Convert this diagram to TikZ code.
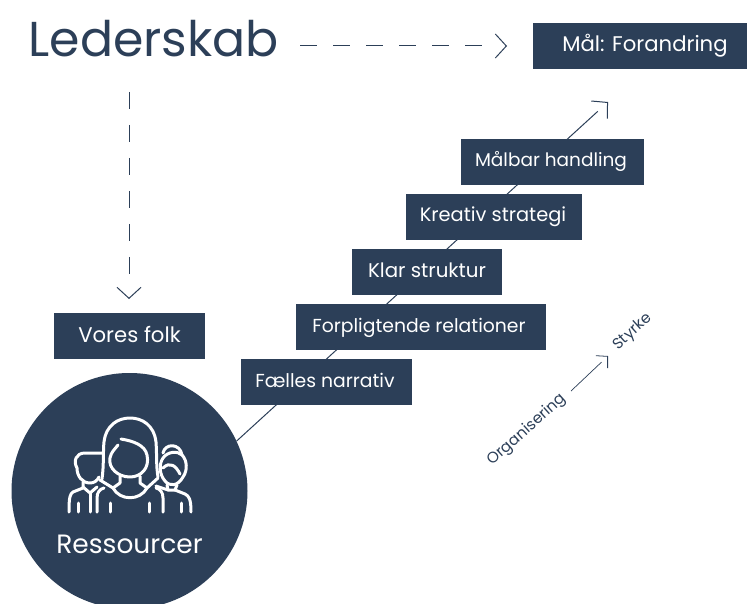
\documentclass[tikz,border=0pt]{standalone}
\usepackage{fontspec}
\setmainfont{Poppins}
\usetikzlibrary{arrows.meta}
\definecolor{navy}{HTML}{2C3F58}
\tikzset{
	stepbox/.style={fill=navy, text=white, minimum height=46pt, inner sep=0pt, text height=14pt, text depth=4pt, font=\fontsize{18.8}{21}\selectfont},
	bigbox/.style={stepbox, text height=16pt, font=\fontsize{21.2}{23}\selectfont},
	longdash/.style={navy, line width=1pt, dash pattern=on 17pt off 16pt on 17pt off 16pt on 17pt off 16pt on 17pt off 16pt on 17pt off 16pt on 17pt off 60pt, -{Straight Barb[length=11pt,width=24pt,line width=1pt]}},
	icon/.style={white, line width=3pt, line cap=round, line join=round},
	smalltext/.style={navy, rotate=42, font=\fontsize{15.3}{17}\selectfont},
}

\begin{document}
\begin{tikzpicture}[x=1pt, y=-1pt]
	\useasboundingbox (0,0) rectangle (747,604);

% title and goal
	\node[navy, anchor=west, font=\fontsize{49}{56}\selectfont] (title) at (25,39) {Lederskab};
	\node[bigbox, minimum width=214pt] (goal) at (640,46) {\hspace{10pt}Mål: Forandring};
	\coordinate (titleend) at (300,46);
	\coordinate (goalend) at (507,46);
	\draw[longdash] (titleend) -- (goalend);

% people
	\coordinate (folkstart) at (129,92);
	\coordinate (folkend) at (129,299);
	\draw[longdash] (folkstart) -- (folkend);
	\node[bigbox, minimum width=151pt] (folk) at (129.5,336) {Vores folk};

% circle and stair line
	\node[circle, fill=navy, minimum size=236pt, inner sep=0pt] (res) at (129.5,491) {};
	\coordinate (stairend) at (608,102);
	\draw[navy, line width=1pt, dash pattern=on 489pt off 100pt, -{Straight Barb[length=11pt,width=24pt,line width=1pt]}] (res.25) -- (stairend);

% stairs
	\node[stepbox, minimum width=171pt] (s1) at (326.5,382) {\hspace{-3pt}Fælles narrativ};
	\node[stepbox, minimum width=250pt] (s2) at (421,327) {\hspace{-4pt}Forpligtende relationer};
	\node[stepbox, minimum width=150pt, font=\fontsize{19.8}{21}\selectfont] (s3) at (427,272) {Klar struktur};
	\node[stepbox, minimum width=176pt, font=\fontsize{19.4}{21}\selectfont] (s4) at (494,217) {\hspace{-2pt}Kreativ strategi};
	\node[stepbox, minimum width=183pt, font=\fontsize{18.5}{21}\selectfont] (s5) at (552.5,162) {\hspace{-3pt}Målbar handling};

% small arrow
	\node[smalltext] (org) at (527,430) {Organisering};
	\node[smalltext] (sty) at (633,332) {Styrke};
	\coordinate (orgend) at (571,391);
	\coordinate (styend) at (608,356);
	\draw[navy, line width=.7pt, dash pattern=on 42pt off 30pt, -{Straight Barb[length=8pt,width=17pt,line width=.8pt]}] (orgend) -- (styend);

% icon
	\node[white, font=\fontsize{26.5}{29}\selectfont] (restext) at (129.5,544) {Ressourcer};
	% woman
	\draw[icon] (102,479) .. controls (104,465) and (103,450) .. (104,442) .. controls (106,425) and (118,418) .. (130,418) .. controls (142,418) and (154,425) .. (156,442) .. controls (157,455) and (156,465) .. (158,477);
	\draw[icon] (121,439) .. controls (133,441) and (145,445) .. (147,455) .. controls (150,468) and (141,477) .. (130,477) .. controls (118,477) and (108,468) .. (110,458) .. controls (111,452) and (115,449) .. (118,445);
	\draw[icon] (120,476) -- (120,483) -- (113,488) .. controls (120,501) and (140,501) .. (147,488) -- (140,483) -- (140,476);
	\draw[icon] (100,480) -- (113,488);
	\draw[icon] (158,478) -- (147,488);
	\draw[icon] (97,512) -- (97,498) .. controls (97,492) and (100,489) .. (104,488);
	\draw[icon] (163,512) -- (163,498) .. controls (163,492) and (160,489) .. (156,488);
	\draw[icon] (110,503) -- (110,512);
	\draw[icon] (149,503) -- (149,512);
	% man
	\draw[icon] (102,453) -- (85,453) .. controls (76,453) and (73,461) .. (77,468) .. controls (77,476) and (82,483) .. (90,483) .. controls (94,483) and (97,481) .. (99,477);
	\draw[icon] (83,482) -- (83,488) -- (73,492) .. controls (70,494) and (69,497) .. (69,512);
	\draw[icon] (78,503) -- (78,512);
	\draw[icon] (83,487) -- (90,493) -- (97,487);
	\draw[icon] (90,493) -- (90,512);
	% girl
	\draw[icon] (163,458) .. controls (159,464) and (159,474) .. (165,481) .. controls (170,487) and (178,486) .. (183,477) .. controls (188,470) and (187,460) .. (182,455) .. controls (178,451) and (168,451) .. (163,458);
	\draw[icon] (163,453) .. controls (165,443) and (180,443) .. (182,455);
	\draw[icon] (163,468) .. controls (170,461) and (176,466) .. (180,474);
	\draw[icon] (167,485) -- (168,490) -- (175,490) -- (177,485);
	\draw[icon] (175,490) -- (185,494) .. controls (189,496) and (191,499) .. (191,512);
	\draw[icon] (156,486) -- (168,490);
	\draw[icon] (181,503) -- (181,512);
\end{tikzpicture}
\end{document}
